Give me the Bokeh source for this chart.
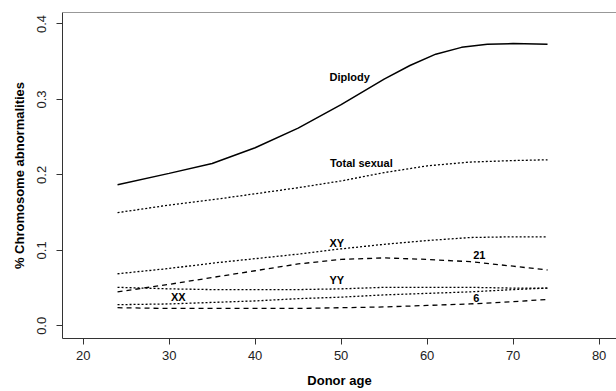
from bokeh.plotting import figure
from bokeh.models import Range1d, FixedTicker, Span
from bokeh.core.properties import value
from bokeh.embed import file_html
from bokeh.resources import INLINE

# Data
ages = [24, 30, 35, 40, 45, 50, 55, 60, 65, 70, 74]
diplody_ages = [24, 30, 35, 40, 45, 50, 55, 58, 61, 64, 67, 70, 74]
diplody = [0.187, 0.202, 0.215, 0.236, 0.262, 0.293, 0.327, 0.345, 0.360, 0.369, 0.373, 0.374, 0.373]
total_sexual = [0.150, 0.160, 0.167, 0.175, 0.183, 0.192, 0.203, 0.212, 0.217, 0.219, 0.220]
xy = [0.069, 0.076, 0.083, 0.089, 0.095, 0.102, 0.108, 0.113, 0.117, 0.118, 0.118]
chr21 = [0.045, 0.055, 0.064, 0.073, 0.082, 0.088, 0.090, 0.088, 0.085, 0.079, 0.074]
yy = [0.051, 0.049, 0.048, 0.048, 0.048, 0.049, 0.051, 0.051, 0.051, 0.050, 0.050]
xx = [0.028, 0.029, 0.031, 0.033, 0.036, 0.038, 0.041, 0.043, 0.045, 0.048, 0.050]
chr6 = [0.024, 0.023, 0.023, 0.023, 0.023, 0.024, 0.025, 0.027, 0.029, 0.032, 0.035]

label_text = ["Diplody", "Total sexual", "XY", "21", "YY", "XX", "6"]
label_x = [51.0, 52.35, 49.5, 66.07, 49.5, 31.07, 65.72]
label_y = [0.330, 0.2164, 0.110, 0.0945, 0.0607, 0.0388, 0.0375]

x_ticks = [20, 30, 40, 50, 60, 70, 80]
y_ticks = [0.0, 0.1, 0.2, 0.3, 0.4]
y_tick_labels = ["0.0", "0.1", "0.2", "0.3", "0.4"]

FONT = "Liberation Sans"

p = figure(width=616, height=391,
           x_range=Range1d(17.6, 82.02), y_range=Range1d(-0.0168, 0.4152),
           output_backend="svg", toolbar_location=None,
           min_border_left=62, min_border_right=0,
           min_border_top=12, min_border_bottom=53)

p.grid.visible = False
p.outline_line_color = None
p.background_fill_color = "white"
p.border_fill_color = "white"

# top border of the box
p.add_layout(Span(location=0.4152, dimension="width", line_color="#333333", line_width=1))

black = "black"
lw = 1.3
p.line(diplody_ages, diplody, line_color=black, line_width=1.5)
p.line(ages, total_sexual, line_color=black, line_width=lw, line_dash="2 2")
p.line(ages, xy, line_color=black, line_width=lw, line_dash="2 2")
p.line(ages, chr21, line_color=black, line_width=lw, line_dash="5 4")
p.line(ages, yy, line_color=black, line_width=lw, line_dash="2 2")
p.line(ages, xx, line_color=black, line_width=lw, line_dash="2 2")
p.line(ages, chr6, line_color=black, line_width=lw, line_dash="5 4")

p.text(x=label_x, y=label_y, text=label_text,
       text_align="center", text_baseline="middle",
       text_font=value(FONT), text_font_style="bold",
       text_font_size="11px", text_color=black)

# axes
xa = p.xaxis[0]
xa.ticker = FixedTicker(ticks=x_ticks)
xa.axis_label = "Donor age"
ya = p.yaxis[0]
ya.ticker = FixedTicker(ticks=y_ticks)
ya.major_label_overrides = {t: s for t, s in zip(y_ticks, y_tick_labels)}
ya.axis_label = "% Chromosome abnormalities"
ya.major_label_orientation = "vertical"

for ax in (xa, ya):
    ax.axis_line_color = "#333333"
    ax.axis_line_width = 1
    ax.major_tick_line_color = "#333333"
    ax.major_tick_in = 0
    ax.major_tick_out = 6
    ax.minor_tick_line_color = None
    ax.major_label_text_font = FONT
    ax.major_label_text_font_size = "13px"
    ax.major_label_text_color = "#222222"
    ax.axis_label_text_font = FONT
    ax.axis_label_text_font_style = "bold"
    ax.axis_label_text_font_size = "13px"
    ax.axis_label_text_color = black

ya.major_label_standoff = 10
ya.axis_label_standoff = 8
xa.major_label_standoff = 6
xa.axis_label_standoff = 10

open("out.html", "w").write(file_html(p, INLINE))
